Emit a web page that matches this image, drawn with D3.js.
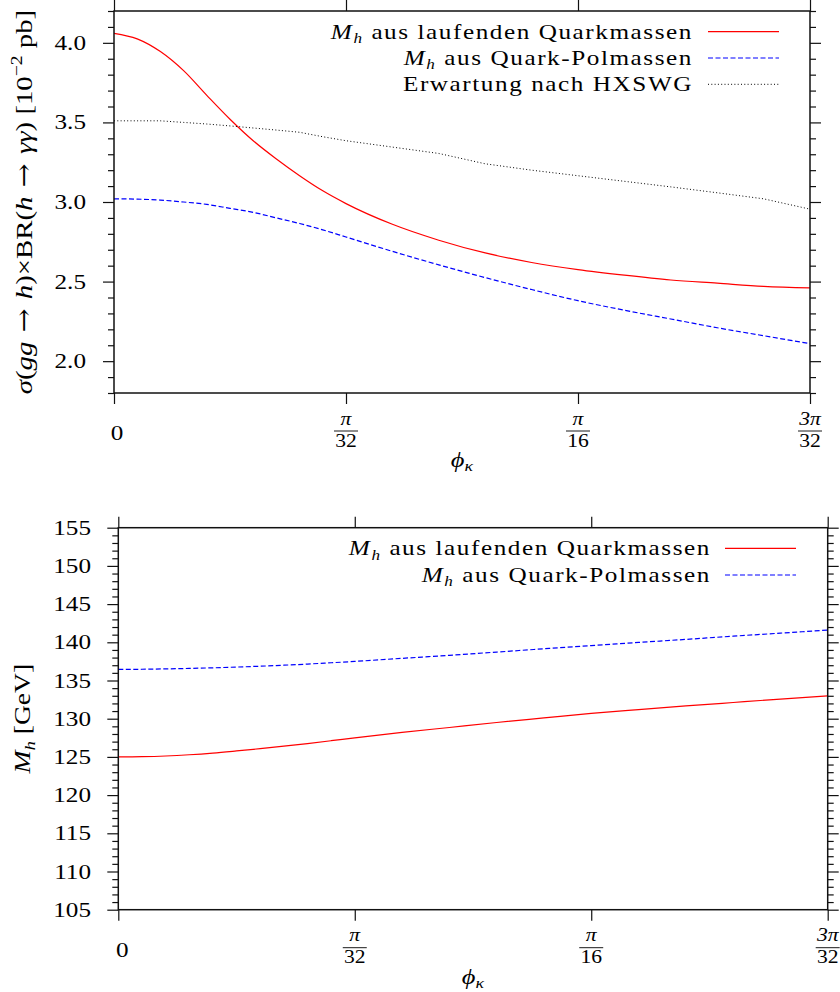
<!DOCTYPE html>
<html><head><meta charset="utf-8">
<script src="https://cdn.jsdelivr.net/npm/d3@7"></script>
<style>
body{margin:0;background:#fff}
svg{display:block}
text{font-family:"Liberation Serif","Times New Roman",serif;fill:#000}
</style>
</head><body>
<svg id="c" width="840" height="992"></svg>
<script>
// ---------- data ----------
// phi in units of pi/32
const phi = [0,0.1,0.2,0.3,0.4,0.5,0.6,0.7,0.8,0.9,1.0,1.2,1.4,1.6,1.8,2.0,2.2,2.4,2.6,2.8,3.0];
const xTicks = [0,1,2,3];
const xTickLabels = [["0"],["π","32"],["π","16"],["3π","32"]];

// upper panel: sigma(gg->h) x BR(h->gamma gamma) [10^-2 pb]
const sigmaRunning = [4.06,4.025,3.945,3.825,3.67,3.52,3.385,3.27,3.165,3.07,2.99,2.86,2.76,2.68,2.62,2.575,2.54,2.51,2.49,2.47,2.46];
const sigmaPole    = [3.02,3.018,3.012,3.0,2.985,2.96,2.935,2.90,2.865,2.825,2.78,2.69,2.605,2.525,2.45,2.38,2.32,2.265,2.21,2.16,2.11];
const sigmaHXSWG   = [3.51,3.51,3.51,3.50,3.49,3.478,3.465,3.452,3.438,3.41,3.385,3.345,3.305,3.24,3.20,3.165,3.13,3.095,3.058,3.02,2.955];
const sigmaTicks = [2.0,2.5,3.0,3.5,4.0];
const sigmaTickLabels = ["2.0","2.5","3.0","3.5","4.0"];

// lower panel: M_h [GeV]
const mhRunning = [125.0,125.03,125.12,125.28,125.5,125.78,126.08,126.4,126.75,127.12,127.5,128.2,128.85,129.5,130.1,130.7,131.2,131.67,132.12,132.57,133.0];
const mhPole    = [136.45,136.47,136.52,136.58,136.66,136.76,136.87,137.0,137.15,137.32,137.5,137.9,138.3,138.72,139.15,139.57,139.98,140.38,140.8,141.2,141.6];
const mhTicks = [105,110,115,120,125,130,135,140,145,150,155];
const mhTickLabels = ["105","110","115","120","125","130","135","140","145","150","155"];

const legendRunning = [{t:"M",i:1},{t:"h",i:1,sub:1},{t:" aus laufenden Quarkmassen"}];
const legendPole    = [{t:"M",i:1},{t:"h",i:1,sub:1},{t:" aus Quark-Polmassen"}];
const legendHXSWG   = [{t:"Erwartung nach HXSWG"}];

// ---------- helpers ----------
const SX = 1.2;
const svg = d3.select("#c");

function rich(parent, x, y, parts, fs, anchor, rot, ls) {
  const g = parent.append("g")
    .attr("transform", `translate(${x},${y})${rot ? ` rotate(${rot})` : ""} scale(${SX},1)`);
  const t = g.append("text").attr("text-anchor", anchor || "start")
    .style("font-size", fs + "px");
  if (ls) t.style("letter-spacing", ls + "px");
  let shift = 0;
  parts.forEach(p => {
    const ts = t.append("tspan").text(p.t);
    if (p.i) ts.style("font-style", "italic");
    if (p.f) ts.style("font-family", p.f);
    const target = p.sub ? fs * 0.2 : p.sup ? -fs * 0.42 : 0;
    if (target !== shift) { ts.attr("dy", target - shift); shift = target; }
    if (p.sub || p.sup) ts.style("font-size", (fs * 0.68) + "px");
  });
  return t;
}

function panel(cfg) {
  const x = d3.scaleLinear().domain([0, 3]).range([cfg.left, cfg.right]);
  const y = d3.scaleLinear().domain(cfg.yDomain).range([cfg.bottom, cfg.top]);
  const g = svg.append("g");

  const minor = d3.range(cfg.yDomain[0], cfg.yDomain[1] + cfg.minorStep / 2, cfg.minorStep)
    .map(v => +v.toFixed(4))
    .filter(v => !cfg.yTicks.some(m => Math.abs(m - v) < 1e-6));

  const styleAxis = s => { s.select(".domain").remove(); s.selectAll("line").attr("stroke", "#111").attr("stroke-width", 1.2); s.selectAll("text").remove(); };

  g.append("g").call(d3.axisLeft(y).tickValues(cfg.yTicks).tickSize(11).tickFormat("")).attr("transform", `translate(${cfg.left},0)`).call(styleAxis);
  g.append("g").call(d3.axisLeft(y).tickValues(minor).tickSize(6).tickFormat("")).attr("transform", `translate(${cfg.left},0)`).call(styleAxis);
  g.append("g").call(d3.axisRight(y).tickValues(cfg.yTicks).tickSize(11).tickFormat("")).attr("transform", `translate(${cfg.right},0)`).call(styleAxis);
  g.append("g").call(d3.axisRight(y).tickValues(minor).tickSize(6).tickFormat("")).attr("transform", `translate(${cfg.right},0)`).call(styleAxis);
  g.append("g").call(d3.axisBottom(x).tickValues(xTicks).tickSize(11).tickFormat("")).attr("transform", `translate(0,${cfg.bottom})`).call(styleAxis);
  g.append("g").call(d3.axisTop(x).tickValues(xTicks).tickSize(11).tickFormat("")).attr("transform", `translate(0,${cfg.top})`).call(styleAxis);

  // curves
  cfg.series.forEach(s => {
    const line = d3.line().x((d, i) => x(phi[i])).y(d => y(d)).curve(s.curve || d3.curveMonotoneX);
    g.append("path").datum(s.values).attr("d", line).attr("fill", "none")
      .attr("stroke", s.color).attr("stroke-width", s.width).attr("stroke-dasharray", s.dash || null);
  });

  // border
  g.append("rect").attr("x", cfg.left).attr("y", cfg.top)
    .attr("width", cfg.right - cfg.left).attr("height", cfg.bottom - cfg.top)
    .attr("fill", "none").attr("stroke", "#111").attr("stroke-width", 1.5);

  // y tick labels
  cfg.yTicks.forEach((v, i) => {
    rich(g, cfg.yLabelRight, y(v) + 7, [{t: cfg.yTickLabels[i]}], 21, "end");
  });

  // x tick labels
  xTicks.forEach((v, i) => {
    const lab = xTickLabels[i];
    const cx = x(v);
    if (lab.length === 1) {
      rich(g, cx + cfg.zeroShift, cfg.bottom + 47, [{t: lab[0]}], 21, "middle");
    } else {
      rich(g, cx, cfg.bottom + 31.5, [{t: lab[0], i: 1}], 18, "middle");
      g.append("line").attr("x1", cx - 12).attr("x2", cx + 12)
        .attr("y1", cfg.bottom + 38).attr("y2", cfg.bottom + 38)
        .attr("stroke", "#000").attr("stroke-width", 0.9);
      rich(g, cx, cfg.bottom + 53.5, [{t: lab[1]}], 18, "middle");
    }
  });

  // x axis title
  rich(g, (cfg.left + cfg.right) / 2, cfg.bottom + 74, [{t: "ϕ", i: 1}, {t: "κ", i: 1, sub: 1}], 22, "middle");

  // y axis title
  rich(g, cfg.yTitleX, (cfg.top + cfg.bottom) / 2, cfg.yTitle, cfg.yTitleSize, "middle", -90);

  // legend
  cfg.series.forEach((s, i) => {
    const ry = cfg.legendY + i * cfg.legendStep;
    rich(g, cfg.legendTextRight, ry + 7, s.label, 21, "end", 0, 1.3);
    g.append("line").attr("x1", cfg.legendX1).attr("x2", cfg.legendX2)
      .attr("y1", ry).attr("y2", ry)
      .attr("stroke", s.color).attr("stroke-width", s.width).attr("stroke-dasharray", s.dash || null);
  });
}

const ARROW = "DejaVu Serif";
panel({
  left: 114, right: 810, top: 11, bottom: 393,
  yDomain: [1.8, 4.2], yTicks: sigmaTicks, yTickLabels: sigmaTickLabels, minorStep: 0.1,
  yLabelRight: 86, zeroShift: 3,
  yTitleX: 32, yTitleSize: 24,
  yTitle: [{t:"σ",i:1},{t:"("},{t:"gg",i:1},{t:" → ",f:ARROW},{t:"h",i:1},{t:")×BR("},{t:"h",i:1},{t:" → ",f:ARROW},{t:"γγ",i:1},{t:") [10"},{t:"−2",sup:1},{t:" pb]"}],
  legendY: 31.7, legendStep: 26.3, legendTextRight: 693, legendX1: 708, legendX2: 779,
  series: [
    {values: sigmaRunning, color: "#ff0000", width: 1.2, label: legendRunning},
    {values: sigmaPole, color: "#0000ff", width: 1.2, dash: "5,2.5", label: legendPole},
    {values: sigmaHXSWG, color: "#000000", width: 1, dash: "1,2.3", curve: d3.curveLinear, label: legendHXSWG}
  ]
});

panel({
  left: 118.3, right: 827.7, top: 527.7, bottom: 909.7,
  yDomain: [105, 155], yTicks: mhTicks, yTickLabels: mhTickLabels, minorStep: 1,
  yLabelRight: 91, zeroShift: 4,
  yTitleX: 30, yTitleSize: 23,
  yTitle: [{t:"M",i:1},{t:"h",i:1,sub:1},{t:" [GeV]"}],
  legendY: 548.3, legendStep: 26.7, legendTextRight: 711, legendX1: 725, legendX2: 796,
  series: [
    {values: mhRunning, color: "#ff0000", width: 1.2, label: legendRunning},
    {values: mhPole, color: "#0000ff", width: 1.2, dash: "5,2.5", label: legendPole}
  ]
});
</script>
</body></html>
